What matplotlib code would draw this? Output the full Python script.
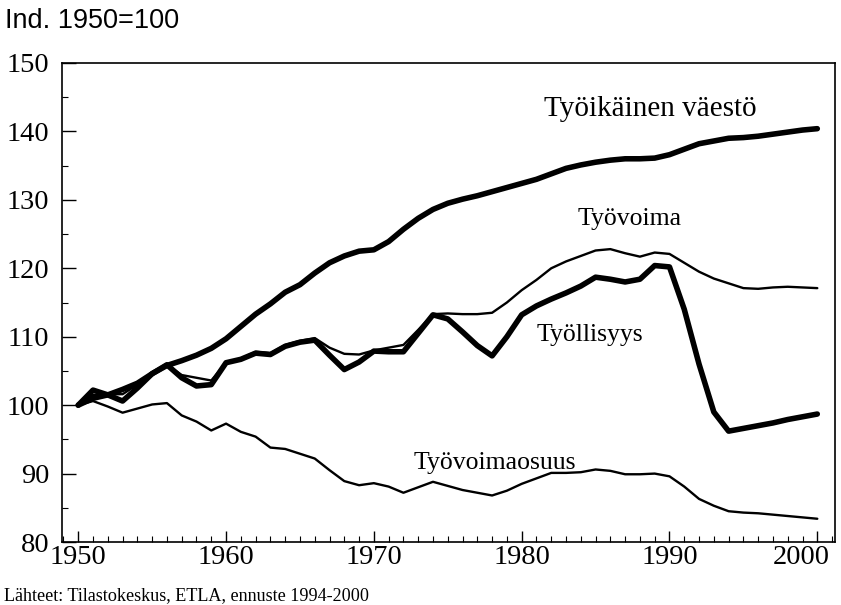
import matplotlib
matplotlib.use("Agg")
import matplotlib.pyplot as plt
import matplotlib.transforms as mtransforms
from matplotlib.ticker import MultipleLocator

years = list(range(1950, 2001))

tyoikainen_vaesto = [100.0, 101.0, 101.5, 102.3, 103.2, 104.6, 105.8, 106.5, 107.3, 108.3,
                     109.7, 111.5, 113.3, 114.8, 116.5, 117.6, 119.3, 120.8, 121.8, 122.5,
                     122.7, 123.9, 125.7, 127.3, 128.6, 129.5, 130.1, 130.6, 131.2, 131.8,
                     132.4, 133.0, 133.8, 134.6, 135.1, 135.5, 135.8, 136.0, 136.0, 136.1,
                     136.6, 137.4, 138.2, 138.6, 139.0, 139.1, 139.3, 139.6, 139.9, 140.2,
                     140.4]

tyovoima = [100.0, 101.5, 101.6, 101.6, 103.0, 104.8, 105.9, 104.4, 104.0, 103.6,
            106.2, 106.8, 107.8, 107.6, 108.8, 109.4, 109.8, 108.4, 107.5, 107.4,
            108.0, 108.4, 108.8, 111.0, 113.3, 113.4, 113.3, 113.3, 113.5, 115.0,
            116.8, 118.3, 120.0, 121.0, 121.8, 122.6, 122.8, 122.2, 121.7, 122.3,
            122.1, 120.8, 119.5, 118.5, 117.8, 117.1, 117.0, 117.2, 117.3, 117.2,
            117.1]

tyollisyys = [100.0, 102.2, 101.5, 100.6, 102.5, 104.6, 105.9, 104.0, 102.8, 103.0,
              106.2, 106.7, 107.6, 107.4, 108.6, 109.2, 109.5, 107.3, 105.2, 106.3,
              107.9, 107.8, 107.8, 110.5, 113.2, 112.6, 110.7, 108.7, 107.2, 110.0,
              113.2, 114.5, 115.5, 116.4, 117.4, 118.7, 118.4, 118.0, 118.4, 120.4,
              120.2, 114.0, 106.0, 99.0, 96.2, 96.6, 97.0, 97.4, 97.9, 98.3,
              98.7]

tyovoimaosuus = [100.0, 100.6, 99.8, 98.9, 99.5, 100.1, 100.3, 98.5, 97.6, 96.3,
                 97.3, 96.1, 95.4, 93.8, 93.6, 92.9, 92.2, 90.5, 88.9, 88.3,
                 88.6, 88.1, 87.2, 88.0, 88.8, 88.2, 87.6, 87.2, 86.8, 87.5,
                 88.5, 89.3, 90.1, 90.1, 90.2, 90.6, 90.4, 89.9, 89.9, 90.0,
                 89.6, 88.1, 86.3, 85.3, 84.5, 84.3, 84.2, 84.0, 83.8, 83.6,
                 83.4]

x_ticks = [1950, 1960, 1970, 1980, 1990, 2000]
y_ticks = [80, 90, 100, 110, 120, 130, 140, 150]

SERIF = ["Liberation Serif", "DejaVu Serif"]
SANS = ["Liberation Sans", "DejaVu Sans"]

fig = plt.figure(figsize=(8.41, 6.05), dpi=100)
ax = fig.add_axes([0.0737, 0.1041, 0.9192, 0.7918])

kw = dict(color="black", solid_joinstyle="round", solid_capstyle="round")
ax.plot(years, tyovoimaosuus, lw=1.7, **kw)
ax.plot(years, tyovoima, lw=1.7, **kw)
ax.plot(years, tyollisyys, lw=4.0, **kw)
ax.plot(years, tyoikainen_vaesto, lw=4.0, **kw)

ax.set_xlim(1948.9, 2001.2)
ax.set_ylim(80, 150)
ax.set_xticks(x_ticks)
ax.set_yticks(y_ticks)
ax.xaxis.set_minor_locator(MultipleLocator(1))
ax.yaxis.set_minor_locator(MultipleLocator(5))
ax.tick_params(axis="both", which="major", direction="in", length=8, width=1.0,
               labelsize=20.5)
ax.tick_params(axis="both", which="minor", direction="in", length=4, width=0.8)
ax.tick_params(axis="x", which="major", pad=2)
ax.tick_params(axis="y", which="major", length=10, pad=9)
for lab in ax.get_xticklabels() + ax.get_yticklabels():
    lab.set_fontfamily(SERIF)
for s in ax.spines.values():
    s.set_linewidth(1.2)

# the last year label sits slightly left of its tick, inside the figure
last = ax.get_xticklabels()[-1]
last.set_transform(last.get_transform() +
                   mtransforms.ScaledTranslation(-16 / 100, 0, fig.dpi_scale_trans))

label_kw = dict(family=SERIF, ha="center", va="center")
ax.text(1988.7, 143.3, "Työikäinen väestö", fontsize=21, **label_kw)
ax.text(1987.3, 127.2, "Työvoima", fontsize=18.5, **label_kw)
ax.text(1984.6, 110.2, "Työllisyys", fontsize=18.5, **label_kw)
ax.text(1978.2, 91.6, "Työvoimaosuus", fontsize=18.5, **label_kw)

fig.text(5 / 841, 1 - 21 / 605, "Ind. 1950=100", fontsize=19.5, family=SANS,
         ha="left", va="center")
fig.text(4 / 841, 1 - 596 / 605, "Lähteet: Tilastokeskus, ETLA, ennuste 1994-2000",
         fontsize=13.1, family=SERIF, ha="left", va="center")

fig.savefig("out.png", dpi=100)
